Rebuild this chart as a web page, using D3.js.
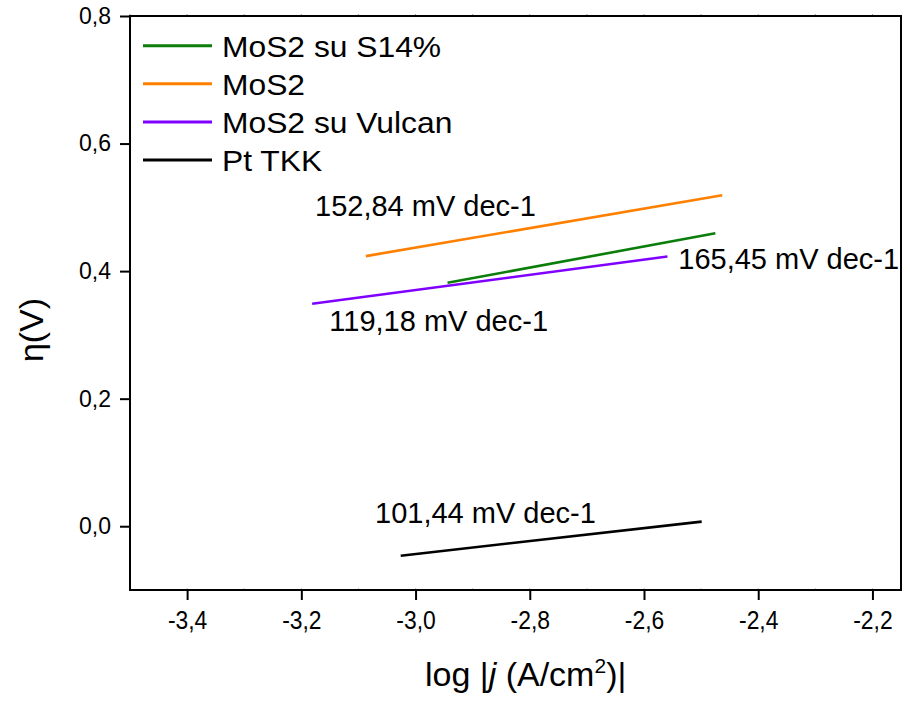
<!DOCTYPE html>
<html>
<head>
<meta charset="utf-8">
<script src="https://cdn.jsdelivr.net/npm/d3@7/dist/d3.min.js"></script>
<style>
  html, body { margin: 0; padding: 0; background: #fff; }
  svg { display: block; font-family: "Liberation Sans", Arial, sans-serif; }
</style>
</head>
<body>
<svg id="chart" width="910" height="703"></svg>
<script>
// Tafel fits: overpotential vs log current density
const seriesNames = ["MoS2 su S14%", "MoS2", "MoS2 su Vulcan", "Pt TKK"];
const seriesColors = ["#0a7d0a", "#ff8000", "#8000ff", "#000000"];
// fit range in log|j| and starting overpotential (V)
const fitStartX = [-2.944, -3.087, -3.181, -3.026];
const fitEndX   = [-2.475, -2.463, -2.559, -2.499];
const fitStartY = [0.3817, 0.4235, 0.3487, -0.0462];
// Tafel slopes (mV/dec)
const tafelSlopes = [165.45, 152.84, 119.18, 101.44];
const slopeLabels = ["165,45 mV dec-1", "152,84 mV dec-1", "119,18 mV dec-1", "101,44 mV dec-1"];
// label anchor points in data units
const labelX = [-2.540, -3.176, -3.151, -3.071];
const labelY = [0.403, 0.4867, 0.3064, 0.0045];

const xTicks = [-3.4, -3.2, -3.0, -2.8, -2.6, -2.4, -2.2];
const yTicks = [0.0, 0.2, 0.4, 0.6, 0.8];
const xDomain = [-3.5, -2.15];
const yDomain = [-0.1, 0.8];

const svg = d3.select("#chart");
const M = { left: 130, right: 901, top: 16, bottom: 590 };

const x = d3.scaleLinear().domain(xDomain).range([M.left, M.right]);
const y = d3.scaleLinear().domain(yDomain).range([M.bottom, M.top]);
const fmt = v => d3.format(".1f")(v).replace("−", "-").replace(".", ",");

// minor ticks on top and bottom edges
const minor = d3.range(-3.5, -2.15, 0.1);
svg.append("g").selectAll("line").data(minor).join("line")
  .attr("x1", d => x(d)).attr("x2", d => x(d))
  .attr("y1", M.top).attr("y2", M.top - 2)
  .attr("stroke", "#999").attr("stroke-width", 1);
svg.append("g").selectAll("line").data(minor).join("line")
  .attr("x1", d => x(d)).attr("x2", d => x(d))
  .attr("y1", M.bottom).attr("y2", M.bottom - 2)
  .attr("stroke", "#bbb").attr("stroke-width", 1);

// bottom axis
const gx = svg.append("g").attr("transform", `translate(0,${M.bottom})`)
  .call(d3.axisBottom(x).tickValues(xTicks).tickFormat(fmt).tickSize(10).tickSizeOuter(0).tickPadding(11));
gx.select(".domain").remove();
gx.selectAll(".tick line").attr("stroke-width", 2).attr("stroke", "#000");
gx.selectAll(".tick text")
  .attr("font-size", 26).attr("fill", "#000")
  .attr("font-family", "Liberation Sans, Arial, sans-serif")
  .attr("transform", "scale(0.88,1)");

// left axis
const gy = svg.append("g").attr("transform", `translate(${M.left},0)`)
  .call(d3.axisLeft(y).tickValues(yTicks).tickFormat(fmt).tickSize(10).tickSizeOuter(0).tickPadding(9));
gy.select(".domain").remove();
gy.selectAll(".tick line").attr("stroke-width", 2).attr("stroke", "#000");
gy.selectAll(".tick text")
  .attr("font-size", 23).attr("fill", "#000")
  .attr("font-family", "Liberation Sans, Arial, sans-serif");

// frame
svg.append("rect")
  .attr("x", M.left).attr("y", M.top)
  .attr("width", M.right - M.left).attr("height", M.bottom - M.top)
  .attr("fill", "none").attr("stroke", "#000").attr("stroke-width", 2);

// fit lines
const fits = seriesNames.map((name, i) => ({
  name, color: seriesColors[i],
  x0: fitStartX[i], x1: fitEndX[i],
  y0: fitStartY[i],
  y1: fitStartY[i] + tafelSlopes[i] / 1000 * (fitEndX[i] - fitStartX[i])
}));
// draw back to front so green sits above purple
const order = [3, 2, 1, 0];
svg.append("g").selectAll("line").data(order.map(i => fits[i])).join("line")
  .attr("x1", d => x(d.x0)).attr("y1", d => y(d.y0))
  .attr("x2", d => x(d.x1)).attr("y2", d => y(d.y1))
  .attr("stroke", d => d.color).attr("stroke-width", 2.6);

// slope labels
svg.append("g").selectAll("text").data(slopeLabels).join("text")
  .attr("x", (d, i) => x(labelX[i])).attr("y", (d, i) => y(labelY[i]))
  .attr("font-size", 29).attr("fill", "#000")
  .text(d => d);

// legend
const lg = svg.append("g");
seriesNames.forEach((name, i) => {
  const ly = 45.7 + i * 38.1;
  lg.append("line").attr("x1", 143).attr("x2", 212).attr("y1", ly).attr("y2", ly)
    .attr("stroke", seriesColors[i]).attr("stroke-width", 3);
  lg.append("text").attr("transform", `translate(222,${ly + 11}) scale(1.06,1)`)
    .attr("font-size", 30).attr("fill", "#000").text(name);
});

// axis titles
const xt = svg.append("text").attr("x", 425).attr("y", 686)
  .attr("font-size", 34).attr("fill", "#000");
xt.append("tspan").text("log |");
xt.append("tspan").attr("font-style", "italic").text("j");
xt.append("tspan").text(" (A/cm");
xt.append("tspan").attr("font-size", 21).attr("dy", -13).text("2");
xt.append("tspan").attr("dy", 13).text(")|");

svg.append("text")
  .attr("transform", "translate(43,330) rotate(-90)")
  .attr("text-anchor", "middle")
  .attr("font-size", 34).attr("fill", "#000")
  .text("η(V)");
</script>
</body>
</html>
